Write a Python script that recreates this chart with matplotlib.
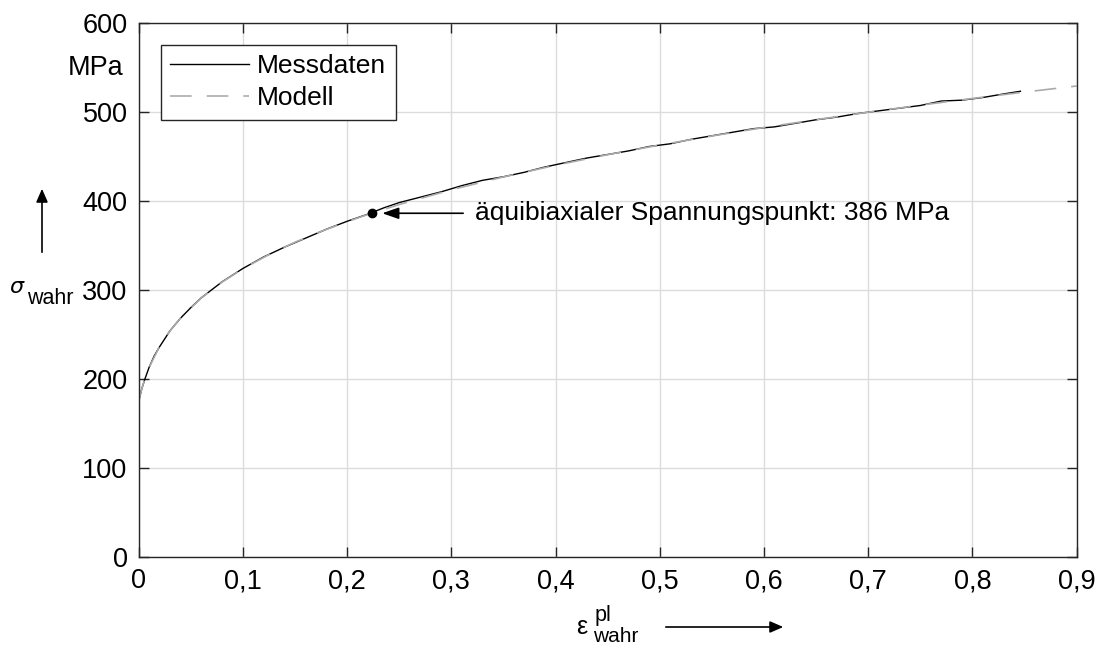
#fliesskurve.py
#true stress vs. true plastic strain, measured data and fitted model
import matplotlib
matplotlib.use("Agg")
import matplotlib.pyplot as plt

plt.rcParams['font.family']=['Liberation Sans','DejaVu Sans']

eps_mess=[0,0.003,0.006,0.01,0.015,0.02,0.03,0.04,0.05,0.06,0.08,0.1,0.12,0.14,0.16,0.18,0.2,0.22,
          0.235,0.25,0.27,0.29,0.31,0.33,0.35,0.37,0.39,0.41,0.43,0.45,0.47,0.49,0.51,0.53,0.55,
          0.57,0.59,0.61,0.63,0.65,0.67,0.69,0.71,0.73,0.75,0.77,0.79,0.81,0.83,0.846]
sig_mess=[175,189,200,213,226,236,254,268,280,291,309,324,337,348,358,368,377,385,
          392,398,404,410,417,423,427,432,438,443,448,452,456,461,464,469,473,
          477,481,483,487,491,494,498,501,504,507,512,513,516,520,523]

#Modell
eps_mod=[0,0.0025,0.005,0.01,0.02,0.03,0.04,0.06,0.08,0.1,0.125,0.15,0.175,0.2,0.225,0.25,
         0.3,0.35,0.4,0.45,0.5,0.55,0.6,0.65,0.7,0.75,0.8,0.85,0.9]
sig_mod=[174.5,186.7,196.7,212.8,236.3,253.9,268.2,290.8,308.7,323.7,339.6,353.5,365.6,376.6,386.7,395.8,
         412.4,426.8,439.9,451.8,462.6,472.8,482.3,491.1,499.5,507.4,514.9,522.1,528.9]

#aequibiaxialer Spannungspunkt
eps_bi=0.2236
sig_bi=386

xticks=[0,0.1,0.2,0.3,0.4,0.5,0.6,0.7,0.8,0.9]
xlabels=['0','0,1','0,2','0,3','0,4','0,5','0,6','0,7','0,8','0,9']
yticks=[0,100,200,300,400,500,600]

fig=plt.figure(figsize=(10.98,6.48),dpi=100)
ax=fig.add_axes([0.1263,0.1404,0.8543,0.8246])

ax.plot(eps_mess,sig_mess,color='black',lw=1.0,label='Messdaten')
ax.plot(eps_mod,sig_mod,color='#ababab',lw=1.2,dashes=(13,9),label='Modell')
ax.plot([eps_bi],[sig_bi],'o',color='black',ms=6)
ax.annotate('',xy=(0.231,sig_bi),xytext=(0.314,sig_bi),
            arrowprops=dict(arrowstyle='-|>,head_length=1.0,head_width=0.35',color='black',lw=1.2))
ax.text(0.323,sig_bi,u'äquibiaxialer Spannungspunkt: %d MPa'%sig_bi,fontsize=19,va='center',ha='left')

ax.set_xlim(0,0.9)
ax.set_ylim(0,600)
ax.set_xticks(xticks)
ax.set_xticklabels(xlabels)
ax.set_yticks(yticks)
ax.tick_params(direction='in',length=7,width=1,labelsize=19.5,top=True,right=True,pad=8,color='#262626')
for s in ax.spines.values():
    s.set_color('#262626');s.set_linewidth(1)
ax.grid(color='#dcdcdc',lw=1)
ax.set_axisbelow(True)

leg=ax.legend(loc='upper left',bbox_to_anchor=(0.0238,0.958),fontsize=19,handlelength=3.0,
              fancybox=False,framealpha=1,edgecolor='#262626',borderaxespad=0,
              borderpad=0.35,labelspacing=0.3,handletextpad=0.3)
leg.get_frame().set_linewidth(1)

#axis labels drawn by hand like the original
fig.text(123/1098,1-68/648,'MPa',fontsize=19.5,ha='right',va='center')
fig.text(17/1098,1-287/648,r'$\sigma$',fontsize=16,ha='center',va='center')
fig.text(27/1098,1-299/648,'wahr',fontsize=15.5,ha='left',va='center')
fig.patches.append(matplotlib.patches.FancyArrowPatch((42/1098,1-255/648),(42/1098,1-186/648),
                   transform=fig.transFigure,arrowstyle='-|>,head_length=8,head_width=3.5',color='black',lw=1.2))
fig.text(582/1098,1-627/648,u'ε',fontsize=18,ha='center',va='center')
fig.text(595/1098,1-616/648,'pl',fontsize=15.5,ha='left',va='center')
fig.text(593/1098,1-637/648,'wahr',fontsize=15,ha='left',va='center')
fig.patches.append(matplotlib.patches.FancyArrowPatch((663/1098,1-627/648),(786/1098,1-627/648),
                   transform=fig.transFigure,arrowstyle='-|>,head_length=8,head_width=3.5',color='black',lw=1.2))

fig.savefig('out.png',dpi=100)
